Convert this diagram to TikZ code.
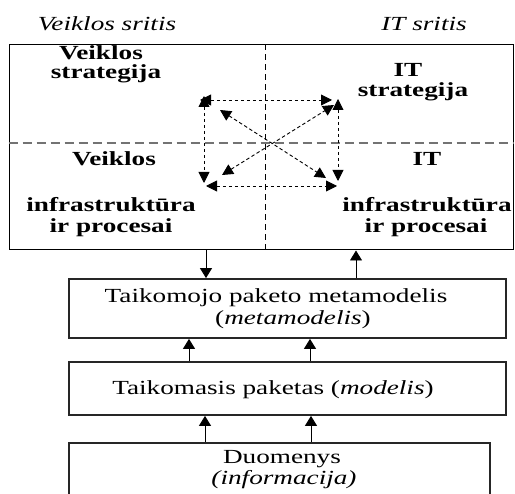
\documentclass[tikz,border=0pt]{standalone}
\usepackage{fontspec}
\usepackage{graphicx}
\setmainfont{Liberation Serif}
\usetikzlibrary{arrows.meta}
\newcommand{\widetxt}[1]{\scalebox{1.36}[1]{#1}}
\begin{document}
\begin{tikzpicture}[x=1pt,y=-1pt,
  lbl/.style={anchor=base,inner sep=0pt,font=\fontsize{20}{21}\selectfont},
  blbl/.style={anchor=base,inner sep=0pt,font=\fontsize{20}{21}\selectfont\bfseries},
  ilbl/.style={anchor=base,inner sep=0pt,font=\fontsize{20}{21}\selectfont\itshape},
  area/.style={draw=black,line width=1pt,inner sep=0pt},
  box/.style={draw=black!85,line width=1.8pt,inner sep=0pt},
  link/.style={dash pattern=on 3.5pt off 2.5pt,line width=0.9pt,{Triangle[length=11pt,width=11pt]}-{Triangle[length=11pt,width=11pt]}},
  flow/.style={line width=0.9pt,-{Triangle[length=10pt,width=12pt]}}]
\useasboundingbox (0,0) rectangle (515,494);

% headers
\node[ilbl] (h1) at (107,31) {\widetxt{Veiklos sritis}};
\node[ilbl] (h2) at (424,31) {\widetxt{IT sritis}};

% top area
\node[area,minimum width=504pt,minimum height=205pt] (area) at (261,147.5) {};
\coordinate (vx) at (265,0);
\coordinate (hy) at (0,143);
\draw[dash pattern=on 6pt off 4pt,line width=0.8pt] (area.north -| vx) -- (area.south -| vx);
\draw[dash pattern=on 9pt off 5pt,line width=1.3pt,black!55] (area.west |- hy) -- (area.east |- hy);

% quadrant labels
\node[blbl] (tl1) at (101,60) {\widetxt{Veiklos}};
\node[blbl] (tl2) at (106,79) {\widetxt{strategija}};
\node[blbl] (tr1) at (408,77) {\widetxt{IT}};
\node[blbl] (tr2) at (413,97) {\widetxt{strategija}};
\node[blbl] (bl1) at (114,166) {\widetxt{Veiklos}};
\node[blbl] (bl2) at (111,212) {\widetxt{infrastruktūra}};
\node[blbl] (bl3) at (111,233) {\widetxt{ir procesai}};
\node[blbl] (br1) at (427,166) {\widetxt{IT}};
\node[blbl] (br2) at (427,212) {\widetxt{infrastruktūra}};
\node[blbl] (br3) at (426,233) {\widetxt{ir procesai}};

% central alignment arrows
\coordinate (tla) at (200,100);
\coordinate (tra) at (332,100);
\coordinate (lvt) at (204,96);
\coordinate (lvb) at (204,183);
\coordinate (rvt) at (338,99);
\coordinate (rvb) at (338,181);
\coordinate (bla) at (206,186);
\coordinate (bra) at (337,186);
\coordinate (d1a) at (220,110);
\coordinate (d1b) at (326,178);
\coordinate (d2a) at (222,175);
\coordinate (d2b) at (334,105);
\draw[link] (tla) -- (tra);
\draw[link] (lvt) -- (lvb);
\draw[link] (rvt) -- (rvb);
\draw[link] (bla) -- (bra);
\draw[link] (d1a) -- (d1b);
\draw[link] (d2a) -- (d2b);

% lower boxes
\node[box,minimum width=437pt,minimum height=59pt] (b1) at (287.5,308.5) {};
\node[box,minimum width=437pt,minimum height=53pt] (b2) at (287.5,388.5) {};
\node[box,minimum width=421pt,minimum height=67pt] (b3) at (279.5,476.5) {};

\node[lbl] (t1a) at (276,303) {\widetxt{Taikomojo paketo metamodelis}};
\node[lbl] (t1b) at (293,325) {\widetxt{(\textit{metamodelis})}};
\node[lbl] (t2) at (273,395) {\widetxt{Taikomasis paketas (\textit{modelis})}};
\node[lbl] (t3a) at (282,464) {\widetxt{Duomenys}};
\node[ilbl] (t3b) at (284,485) {\widetxt{(informacija)}};

% flow arrows
\coordinate (a1) at (206,0);
\coordinate (a2) at (356,0);
\coordinate (a3) at (189,0);
\coordinate (a4) at (310,0);
\coordinate (a5) at (205,0);
\coordinate (a6) at (311,0);
\draw[flow] (area.south -| a1) -- (b1.north -| a1);
\draw[flow] (b1.north -| a2) -- (area.south -| a2);
\draw[flow] (b2.north -| a3) -- (b1.south -| a3);
\draw[flow] (b2.north -| a4) -- (b1.south -| a4);
\draw[flow] (b3.north -| a5) -- (b2.south -| a5);
\draw[flow] (b3.north -| a6) -- (b2.south -| a6);
\end{tikzpicture}
\end{document}
